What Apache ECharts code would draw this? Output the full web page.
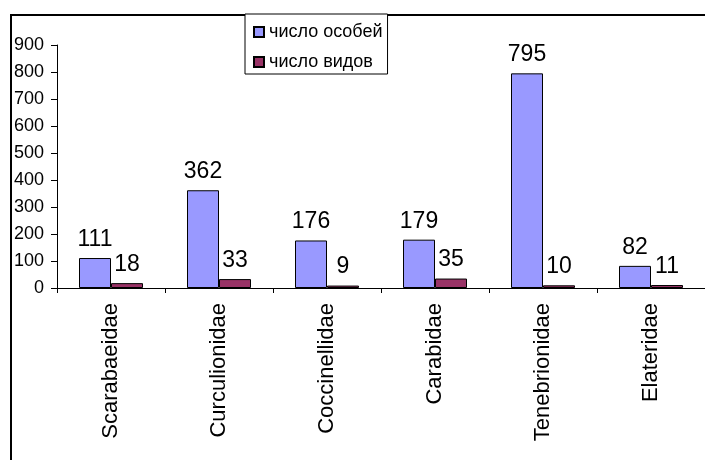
<!DOCTYPE html>
<html>
<head>
<meta charset="utf-8">
<script src="https://cdn.jsdelivr.net/npm/echarts@6/dist/echarts.min.js"></script>
<style>
  html, body { margin: 0; padding: 0; background: #fff; }
  #chart { width: 705px; height: 460px; }
</style>
</head>
<body>
<div id="chart"></div>
<script>
var families = ['Scarabaeidae', 'Curculionidae', 'Coccinellidae', 'Carabidae', 'Tenebrionidae', 'Elateridae'];
var individuals = [111, 362, 176, 179, 795, 82];
var species = [18, 33, 9, 35, 10, 11];
var yTicks = { min: 0, max: 900, step: 100 };

var font = 'Liberation Sans, Arial, sans-serif';
var myChart = echarts.init(document.getElementById('chart'));

var option = {
    animation: false,
    backgroundColor: '#fff',
    // рамка вокруг диаграммы (справа и снизу уходит за край)
    graphic: [{
        type: 'rect',
        z: -1,
        shape: { x: 11, y: 15, width: 760, height: 500 },
        style: { fill: 'none', stroke: '#000', lineWidth: 2 }
    }],
    legend: {
        orient: 'vertical',
        left: 245,
        top: 14,
        padding: [9, 5, 3, 8],
        itemGap: 12,
        itemWidth: 10,
        itemHeight: 10,
        icon: 'rect',
        backgroundColor: '#fff',
        borderColor: '#000',
        borderWidth: 1,
        textStyle: { fontFamily: font, fontSize: 18, color: '#000' },
        data: ['число особей', 'число видов']
    },
    grid: { left: 57, top: 45, width: 657, height: 243 },
    xAxis: {
        type: 'category',
        data: families,
        axisLine: { lineStyle: { color: '#000', width: 1 } },
        axisTick: { show: true, length: 5, lineStyle: { color: '#000' } },
        axisLabel: {
            rotate: 90,
            margin: 15,
            fontFamily: font,
            fontSize: 22,
            color: '#000'
        }
    },
    yAxis: {
        type: 'value',
        min: yTicks.min,
        max: yTicks.max,
        interval: yTicks.step,
        splitLine: { show: false },
        axisLine: { show: true, lineStyle: { color: '#000', width: 1 } },
        axisTick: { show: true, length: 6, lineStyle: { color: '#000' } },
        axisLabel: { margin: 13, fontFamily: font, fontSize: 18, color: '#000' }
    },
    series: [{
        name: 'число особей',
        type: 'bar',
        barWidth: 32,
        barGap: '0%',
        itemStyle: { color: '#9999FF', borderColor: '#000', borderWidth: 1 },
        label: { show: true, position: 'top', distance: 7, fontFamily: font, fontSize: 23, color: '#000' },
        data: individuals
    }, {
        name: 'число видов',
        type: 'bar',
        barWidth: 32,
        barGap: '0%',
        itemStyle: { color: '#993366', borderColor: '#000', borderWidth: 1 },
        label: { show: true, position: 'top', distance: 7, fontFamily: font, fontSize: 23, color: '#000' },
        data: species
    }]
};
myChart.setOption(option);
</script>
</body>
</html>
